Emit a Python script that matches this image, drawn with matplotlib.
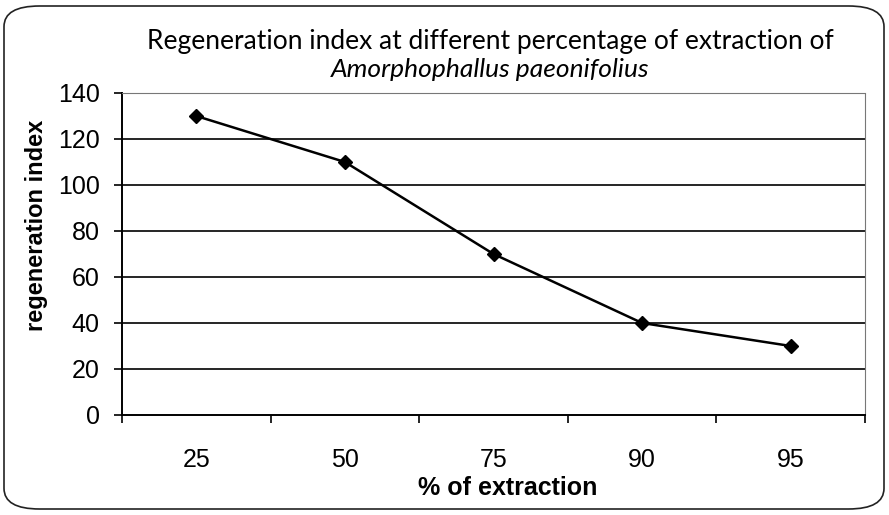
import matplotlib
matplotlib.use("Agg")
import matplotlib.pyplot as plt
from matplotlib.patches import FancyBboxPatch
import numpy as np

categories = ["25", "50", "75", "90", "95"]
values = [130, 110, 70, 40, 30]
yticks = [0, 20, 40, 60, 80, 100, 120, 140]

fig = plt.figure(figsize=(8.89, 5.15), dpi=100)
fig.patch.set_facecolor("white")

border = FancyBboxPatch((4 / 889, 6 / 515), 880 / 889, 503 / 515,
                        boxstyle="round,pad=0,rounding_size=0.04",
                        transform=fig.transFigure, fill=False,
                        edgecolor="#222222", linewidth=1.2)
fig.patches.append(border)

ax = fig.add_axes([122 / 889, 100 / 515, 743 / 889, 322 / 515])
x = np.arange(len(categories))
ax.plot(x, values, color="black", linewidth=1.8, marker="D", markersize=7,
        markerfacecolor="black", markeredgecolor="black", zorder=3)

ax.set_xlim(-0.5, len(categories) - 0.5)
ax.set_ylim(0, 140)
ax.set_yticks(yticks)
ax.set_yticklabels([str(v) for v in yticks], fontsize=18, family="Liberation Sans")
ax.set_xticks(x)
ax.set_xticklabels(categories, fontsize=18, family="Liberation Sans")
ax.tick_params(axis="x", length=0, pad=24)
ax.set_xticks(np.arange(-0.5, len(categories), 1), minor=True)
ax.tick_params(axis="x", which="minor", length=6, width=1.2, direction="out", color="black")
ax.tick_params(axis="y", length=6, width=1.2, direction="out", pad=10)

for yv in yticks[1:]:
    ax.axhline(yv, color="black", linewidth=1.2, zorder=1)

for s in ["top", "right"]:
    ax.spines[s].set_color("#777777")
    ax.spines[s].set_linestyle((0, (1, 1)))
    ax.spines[s].set_linewidth(0.8)
for s in ["left", "bottom"]:
    ax.spines[s].set_color("black")
    ax.spines[s].set_linewidth(1.4)

ax.set_ylabel("regeneration index", fontsize=17, fontweight="bold",
              family="Liberation Sans")
ax.yaxis.set_label_coords((37 - 122) / 743, (415 - 225) / 322)
ax.yaxis.label.set_verticalalignment("center")
ax.set_xlabel("% of extraction", fontsize=18, fontweight="bold",
              family="Liberation Sans")
ax.xaxis.set_label_coords((508 - 122) / 743, (415 - 488) / 322)
ax.xaxis.label.set_verticalalignment("center")

fig.text(490 / 889, 1 - 42 / 515,
         "Regeneration index at different percentage of extraction of",
         ha="center", va="center", fontsize=19, family="Lato")
fig.text(490 / 889, 1 - 70 / 515, "Amorphophallus paeonifolius",
         ha="center", va="center", fontsize=19, family="Lato", style="italic")

fig.savefig("out.png", dpi=100)
